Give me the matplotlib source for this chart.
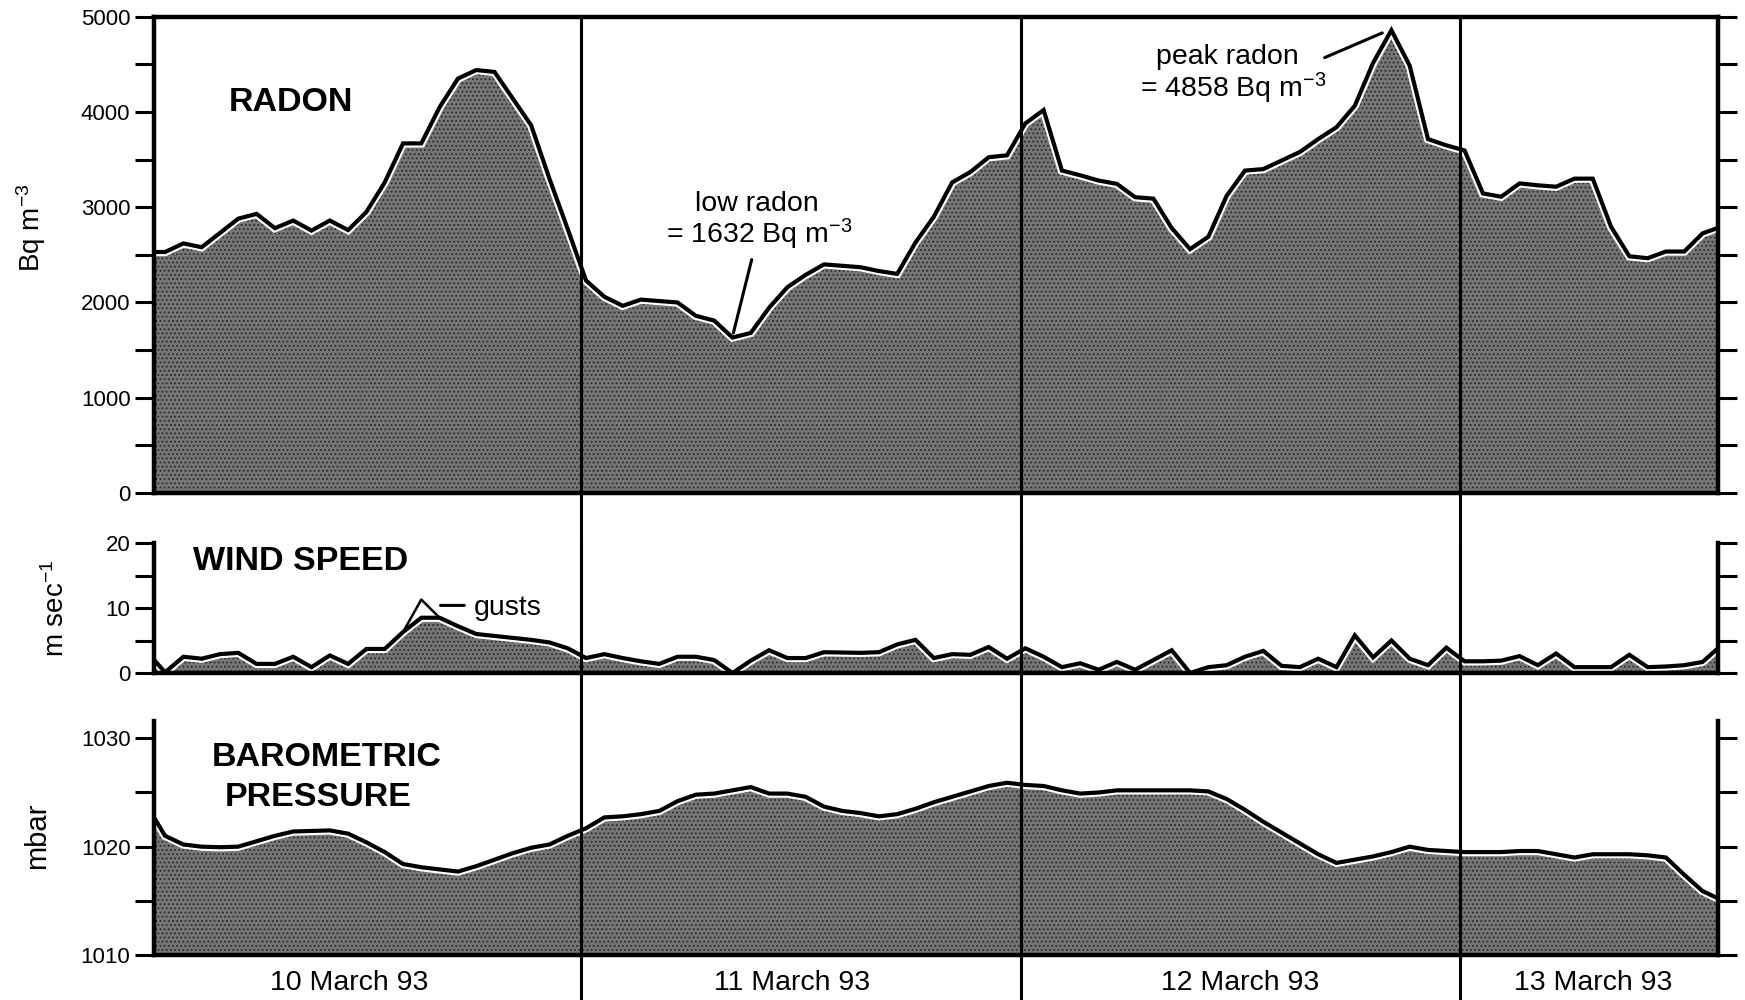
import numpy as np
import matplotlib
matplotlib.use('Agg')
import matplotlib.pyplot as plt
from matplotlib.lines import Line2D
from matplotlib.transforms import blended_transform_factory
from matplotlib.ticker import MultipleLocator

plt.rcParams['font.family'] = ['Liberation Sans', 'DejaVu Sans']
plt.rcParams['mathtext.fontset'] = 'custom'
plt.rcParams['mathtext.rm'] = 'Liberation Sans'
plt.rcParams['mathtext.it'] = 'Liberation Sans:italic'
plt.rcParams['mathtext.bf'] = 'Liberation Sans:bold'
plt.rcParams['hatch.linewidth'] = 0.8

# hours since 10 March 93 00:00 (hourly samples)
hours = np.arange(87) + 0.25

radon = [2530, 2530, 2620, 2580, 2730, 2880, 2930, 2780, 2860, 2755,
         2860, 2760, 2950, 3260, 3670, 3670, 4050, 4350, 4440, 4420,
         4140, 3860, 3300, 2770, 2230, 2060, 1965, 2030, 2015, 2000,
         1860, 1810, 1632, 1680, 1945, 2160, 2290, 2400, 2385, 2370,
         2330, 2300, 2630, 2900, 3260, 3370, 3525, 3545, 3880, 4020,
         3385, 3335, 3280, 3245, 3105, 3090, 2780, 2560, 2690, 3120,
         3385, 3400, 3490, 3580, 3715, 3840, 4065, 4515, 4858, 4485,
         3715, 3650, 3595, 3145, 3110, 3250, 3230, 3215, 3300, 3300,
         2795, 2485, 2465, 2535, 2535, 2725, 2795]

wind = [3.3, 0.1, 2.5, 2.2, 2.9, 3.1, 1.4, 1.4, 2.5, 0.9,
        2.7, 1.4, 3.7, 3.7, 6.3, 8.5, 8.5, 7.2, 6.0, 5.7,
        5.4, 5.1, 4.7, 3.8, 2.3, 2.9, 2.3, 1.8, 1.4, 2.5,
        2.5, 2.0, 0.0, 1.9, 3.5, 2.3, 2.3, 3.2, 3.15, 3.1,
        3.2, 4.4, 5.1, 2.3, 2.9, 2.8, 4.0, 2.2, 3.8, 2.5,
        0.9, 1.5, 0.5, 1.7, 0.5, 2.0, 3.5, 0.0, 0.9, 1.2,
        2.5, 3.4, 1.1, 0.9, 2.2, 0.9, 5.8, 2.4, 5.0, 2.2,
        1.2, 3.9, 1.8, 1.8, 1.9, 2.6, 1.2, 3.0, 0.9, 0.9,
        0.9, 2.8, 0.9, 1.0, 1.2, 1.7, 4.2]

gust_hours = [14.25, 15.25, 16.25]
gust_speed = [6.3, 11.3, 8.5]

pressure = [1023.8, 1021.0, 1020.2, 1020.0, 1019.95, 1020.0, 1020.5, 1021.0, 1021.4, 1021.45,
            1021.5, 1021.2, 1020.4, 1019.5, 1018.4, 1018.1, 1017.9, 1017.7, 1018.2, 1018.8,
            1019.4, 1019.9, 1020.2, 1021.0, 1021.7, 1022.7, 1022.8, 1023.0, 1023.3, 1024.2,
            1024.8, 1024.9, 1025.2, 1025.5, 1024.9, 1024.9, 1024.6, 1023.7, 1023.3, 1023.1,
            1022.8, 1023.0, 1023.5, 1024.1, 1024.6, 1025.1, 1025.6, 1025.9, 1025.7, 1025.6,
            1025.2, 1024.9, 1025.0, 1025.2, 1025.2, 1025.2, 1025.2, 1025.2, 1025.1, 1024.4,
            1023.4, 1022.3, 1021.3, 1020.3, 1019.3, 1018.5, 1018.8, 1019.1, 1019.5, 1020.0,
            1019.7, 1019.6, 1019.5, 1019.5, 1019.5, 1019.6, 1019.6, 1019.3, 1019.0, 1019.3,
            1019.3, 1019.3, 1019.2, 1019.0, 1017.4, 1015.9, 1015.1]

day_bounds = [24, 48, 72]
day_labels = ['10 March 93', '11 March 93', '12 March 93', '13 March 93']
day_label_pos = [11.3, 35.5, 60.0, 79.3]

FILL = '#767676'
HATCH = '#2a2a2a'

fig = plt.figure(figsize=(17.45, 10), dpi=100)
left, width = 0.0883, 0.8963
ax1 = fig.add_axes([left, 0.507, width, 0.4763])
ax2 = fig.add_axes([left, 0.327, width, 0.130])
ax3 = fig.add_axes([left, 0.045, width, 0.234])


def draw_series(ax, x, y, base):
    ax.fill_between(x, base, y, facecolor=FILL, edgecolor=HATCH, hatch='....',
                    linewidth=0, zorder=1)
    for d in day_bounds:
        ax.axvline(d, color='black', lw=2.2, zorder=1.8)
    ax.plot(x, y, color='white', lw=6, zorder=2, solid_joinstyle='miter')
    ax.plot(x, y, color='black', lw=3, zorder=2.1, solid_joinstyle='miter')


draw_series(ax1, hours, radon, 0)
draw_series(ax2, hours, wind, 0)
ax2.plot(gust_hours, gust_speed, color='black', lw=1.8, zorder=2.2)
draw_series(ax3, hours, pressure, 1010)

ax1.set_ylim(0, 5000)
ax2.set_ylim(0, 20)
ax3.set_ylim(1010, 1031.6)

for ax, major, minor in [(ax1, 1000, 500), (ax2, 10, 5), (ax3, 10, 5)]:
    ax.set_xlim(0.65, 86.1)
    ax.yaxis.set_major_locator(MultipleLocator(major))
    ax.yaxis.set_minor_locator(MultipleLocator(minor))
    ax.tick_params(axis='y', which='both', direction='out', length=14, width=2.2,
                   left=True, right=True, labelleft=True, labelright=False,
                   labelsize=16, pad=3)
    for s in ax.spines.values():
        s.set_linewidth(3.2)
        s.set_zorder(3)
    ax.set_facecolor('none')

for ax in (ax1, ax2):
    ax.tick_params(axis='x', bottom=False, labelbottom=False)
for ax in (ax2, ax3):
    ax.spines['top'].set_visible(False)

ax3.set_xticks(day_label_pos)
ax3.set_xticklabels(day_labels, fontsize=20.5)
ax3.tick_params(axis='x', length=0, pad=11)

ax1.set_ylabel(r'Bq m$^{-3}$', fontsize=20)
ax1.yaxis.set_label_coords(-0.068, 0.557)
ax2.set_ylabel(r'm sec$^{-1}$', fontsize=20)
ax2.yaxis.set_label_coords(-0.054, 0.50)
ax3.set_ylabel('mbar', fontsize=21)
ax3.yaxis.set_label_coords(-0.066, 0.51)

# panel titles
ax1.text(8.1, 4100, 'RADON', ha='center', va='center', fontsize=24.5, fontweight='bold')
ax2.text(8.65, 17.1, 'WIND SPEED', ha='center', va='center', fontsize=24.5, fontweight='bold')
ax3.text(10.1, 1028.25, 'BAROMETRIC', ha='center', va='center', fontsize=24.5, fontweight='bold')
ax3.text(9.6, 1024.5, 'PRESSURE', ha='center', va='center', fontsize=24.5, fontweight='bold')

# annotations
line_kw = dict(arrowstyle='-', lw=2.2, color='black', shrinkA=0, shrinkB=0)
ax1.text(33.6, 2959, 'low radon', ha='center', va='baseline', fontsize=20.5)
ax1.text(33.7, 2616, r'= 1632 Bq m$^{-3}$', ha='center', va='baseline', fontsize=20.5)
ax1.annotate('', xy=(32.3, 1680), xytext=(33.3, 2450), arrowprops=line_kw)

ax1.text(59.3, 4508, 'peak radon', ha='center', va='baseline', fontsize=20.5)
ax1.text(59.6, 4157, r'= 4858 Bq m$^{-3}$', ha='center', va='baseline', fontsize=20.5)
ax1.annotate('', xy=(67.75, 4830), xytext=(64.6, 4570), arrowprops=line_kw)

ax2.text(18.1, 10.0, 'gusts', ha='left', va='center', fontsize=20.5)
ax2.annotate('', xy=(17.6, 10.4), xytext=(16.3, 10.4), arrowprops=line_kw)

# day boundary lines running through the gaps between panels
trans = blended_transform_factory(ax1.transData, fig.transFigure)
for d in day_bounds:
    fig.add_artist(Line2D([d, d], [0.002, 0.9833], transform=trans,
                          color='black', lw=2.2, zorder=10))

fig.savefig('out.png', dpi=100)
